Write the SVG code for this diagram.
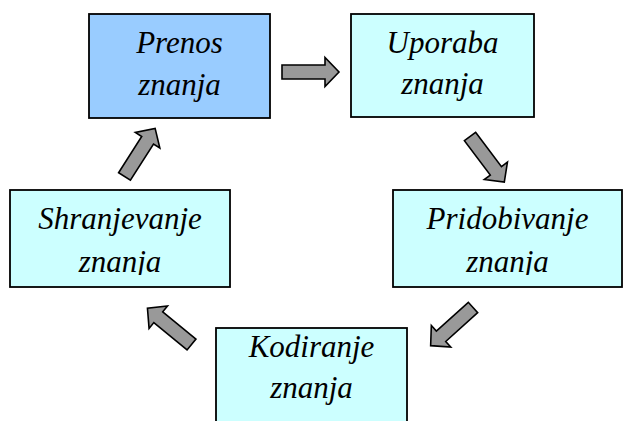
<svg xmlns="http://www.w3.org/2000/svg" width="625" height="421" viewBox="0 0 625 421">
<defs>
<polygon id="blk" points="0,-7 43,-7 43,-14.5 57,0 43,14.5 43,7 0,7" fill="#999999" stroke="#000" stroke-width="1.6"/>
<clipPath id="c1"><rect x="0" y="180" width="250" height="95"/></clipPath>
<clipPath id="c2"><rect x="380" y="180" width="245" height="95"/></clipPath>
</defs>
<rect width="625" height="421" fill="#fff"/>
<g stroke="#000" stroke-width="1.8" fill="#CCFFFF">
<rect id="prenos-box" x="89" y="14" width="181" height="104" fill="#99CCFF"/>
<rect id="uporaba-box" x="351" y="14" width="183" height="103"/>
<rect id="pridobivanje-box" x="393" y="190" width="229" height="97"/>
<rect id="kodiranje-box" x="216" y="328" width="191" height="110"/>
<rect id="shranjevanje-box" x="10" y="190" width="220" height="97"/>
</g>
<g font-family="'Liberation Serif', serif" font-style="italic" font-size="31" text-anchor="middle" fill="#000">
<g id="prenos">
<text x="179.5" y="53">Prenos</text>
<text x="179.5" y="95">znanja</text>
</g>
<g id="uporaba">
<text x="442.5" y="53">Uporaba</text>
<text x="442.5" y="94">znanja</text>
</g>
<g id="pridobivanje" clip-path="url(#c2)">
<text x="507.5" y="229">Pridobivanje</text>
<text x="507.5" y="272">znanja</text>
</g>
<g id="kodiranje">
<text x="311.5" y="357">Kodiranje</text>
<text x="311.5" y="398">znanja</text>
</g>
<g id="shranjevanje" clip-path="url(#c1)">
<text x="120" y="229">Shranjevanje</text>
<text x="120" y="272">znanja</text>
</g>
</g>
<g id="connectors">
<use href="#blk" transform="translate(282,72)"/>
<use href="#blk" transform="translate(470,136.5) rotate(53)"/>
<use href="#blk" transform="translate(473,307.5) rotate(138)"/>
<use href="#blk" transform="translate(191.5,344.5) rotate(-140.6)"/>
<use href="#blk" transform="translate(124.5,176.5) rotate(-57.5)"/>
</g>
</svg>
